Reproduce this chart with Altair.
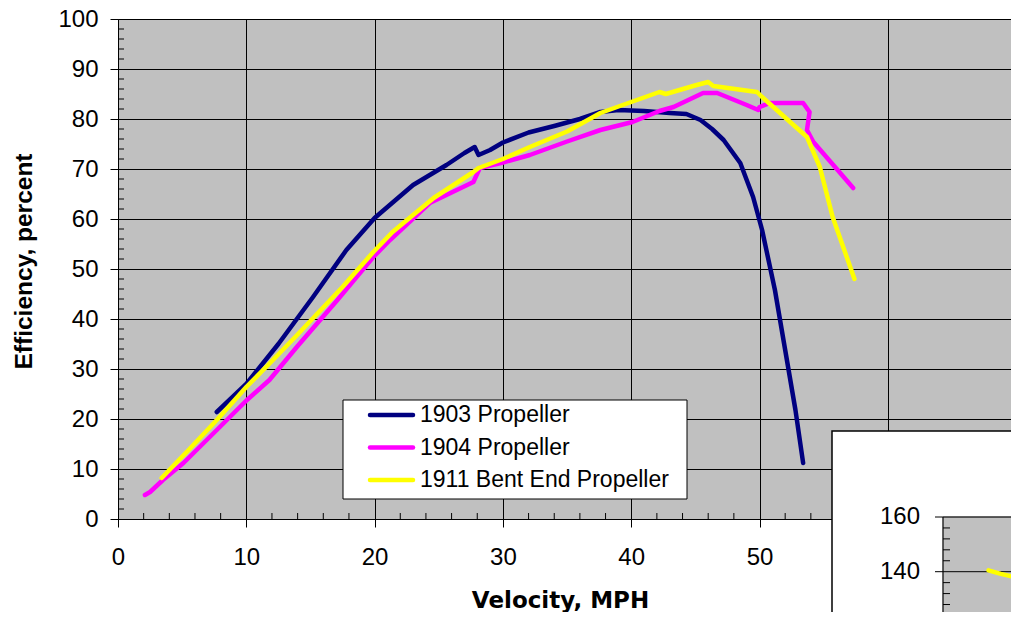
import altair as alt
import pandas as pd

series_names = ["1903 Propeller", "1904 Propeller", "1911 Bent End Propeller"]
series_colors = ["#000080", "#FF00FF", "#FFFF00"]

v1903 = [7.7, 10.0, 12.5, 15.2, 17.8, 20.0, 23.0, 25.6, 27.0, 27.8, 28.1, 29.0, 30.0, 32.0,
         34.0, 36.0, 37.6, 39.0, 41.0, 43.0, 44.3, 45.4, 46.3, 47.2, 48.5, 49.5, 50.2, 51.2,
         52.0, 52.8, 53.4]
e1903 = [21.4, 27.0, 35.0, 44.4, 53.8, 60.2, 66.8, 70.8, 73.2, 74.4, 72.8, 73.8, 75.3, 77.3,
         78.6, 80.0, 81.4, 81.8, 81.6, 81.2, 81.0, 79.8, 78.0, 75.8, 71.2, 64.4, 57.8, 45.8,
         33.8, 21.8, 11.2]

v1904 = [2.1, 2.5, 3.5, 5.1, 7.7, 10.05, 11.8, 14.0, 17.1, 19.9, 21.2, 24.3, 27.7, 28.2,
         30.0, 32.1, 35.0, 37.6, 40.1, 42.2, 43.3, 45.6, 46.7, 49.0, 49.9, 50.0, 50.8, 53.4,
         53.9, 53.7, 54.2, 57.3]
e1904 = [4.8, 5.4, 7.8, 11.2, 17.8, 23.8, 27.8, 34.6, 43.8, 52.4, 55.8, 63.2, 67.4, 70.2,
         71.3, 72.8, 75.5, 77.8, 79.4, 81.6, 82.4, 85.2, 85.2, 82.8, 81.8, 82.4, 83.2, 83.2,
         81.4, 77.8, 75.4, 66.2]

v1911 = [3.4, 5.5, 7.7, 10.0, 12.0, 14.0, 17.5, 19.9, 21.4, 24.6, 27.7, 28.1, 30.0, 32.1,
         35.0, 37.6, 38.9, 42.2, 42.7, 45.1, 46.0, 46.4, 49.8, 50.2, 53.7, 54.7, 55.7, 57.4]
e1911 = [8.2, 13.8, 19.8, 26.4, 31.6, 36.9, 46.4, 53.4, 57.4, 64.2, 69.4, 70.2, 72.0, 74.4,
         77.5, 81.2, 82.4, 85.4, 85.0, 86.8, 87.4, 86.6, 85.4, 84.4, 76.4, 70.4, 60.4, 48.0]

x_major = [0, 10, 20, 30, 40, 50, 60]
y_major = [0, 10, 20, 30, 40, 50, 60, 70, 80, 90, 100]
x_minor = [2, 4, 6, 8, 12, 14, 16, 18, 22, 24, 26, 28, 32, 34, 36, 38, 42, 44, 46, 48,
           52, 54, 56, 58, 62, 64, 66, 68]
y_minor = [2, 4, 6, 8, 12, 14, 16, 18, 22, 24, 26, 28, 32, 34, 36, 38, 42, 44, 46, 48,
           52, 54, 56, 58, 62, 64, 66, 68, 72, 74, 76, 78, 82, 84, 86, 88, 92, 94, 96, 98]

# partly visible inset chart (lower right)
inset_major = [160, 140, 120]
inset_minor = [156, 152, 148, 144, 136, 132, 128, 124]
inset_x = [2.6, 3.3, 4.1, 5.0]
inset_y = [140.5, 139.2, 138.0, 136.8]

rows = []
for name, xs, ys in zip(series_names, [v1903, v1904, v1911], [e1903, e1904, e1911]):
    for i, (xv, yv) in enumerate(zip(xs, ys)):
        rows.append({"series": name, "velocity": xv, "efficiency": yv, "idx": i})
df = pd.DataFrame(rows)

color = alt.Color("series:N", scale=alt.Scale(domain=series_names, range=series_colors),
                  legend=None)

x_scale = alt.Scale(domain=[0, 69.6], nice=False, zero=False)
y_scale = alt.Scale(domain=[0, 100], nice=False)

x_axis = alt.Axis(values=x_major, title="Velocity, MPH", labelFlush=False, labelPadding=18,
                  labelExpr="datum.value >= 60 ? '' : datum.label",
                  titleFont="DejaVu Sans", titleFontWeight="bold", titleFontSize=23,
                  titleX=442, titleY=88, titleBaseline="alphabetic", titleAlign="center")
y_axis = alt.Axis(values=y_major, title="Efficiency, percent", labelPadding=12,
                  titleFont="Liberation Sans", titleFontWeight="bold", titleFontSize=24.5,
                  titleX=-87, titleY=242, titleAngle=270, titleBaseline="alphabetic",
                  titleAlign="center")

lines = alt.Chart(df).mark_line(strokeWidth=4.5, strokeCap="round", strokeJoin="round").encode(
    x=alt.X("velocity:Q", scale=x_scale, axis=x_axis),
    y=alt.Y("efficiency:Q", scale=y_scale, axis=y_axis),
    color=color,
    order=alt.Order("idx:Q"),
)

xminor = alt.Chart(pd.DataFrame({"v": x_minor})).mark_rule(color="black", strokeWidth=1).encode(
    x=alt.X("v:Q", scale=x_scale, axis=x_axis),
    y=alt.value(494), y2=alt.value(500),
)
yminor = alt.Chart(pd.DataFrame({"v": y_minor})).mark_rule(color="black", strokeWidth=1).encode(
    y=alt.Y("v:Q", scale=y_scale, axis=y_axis),
    x=alt.value(0), x2=alt.value(6),
)

main = alt.layer(lines, xminor, yminor)

# legend
one = pd.DataFrame({"k": [0]})
leg_df = pd.DataFrame({"series": series_names})
leg_y = alt.Y("series:N", scale=alt.Scale(type="point", domain=series_names,
                                          range=[396, 461], padding=0), axis=None)
leg_box = alt.Chart(one).mark_rect(fill="white", stroke="black", strokeWidth=1).encode(
    x=alt.value(225), x2=alt.value(569), y=alt.value(381), y2=alt.value(480))
leg_sym = alt.Chart(leg_df).mark_rule(strokeWidth=4.5, strokeCap="round").encode(
    x=alt.value(252), x2=alt.value(295), y=leg_y, color=color)
leg_txt = alt.Chart(leg_df).mark_text(align="left", baseline="middle", fontSize=23,
                                      font="Liberation Sans", color="black").encode(
    x=alt.value(302), y=leg_y, text="series:N")
legend = alt.layer(leg_box, leg_sym, leg_txt)

# inset
iy_scale = alt.Scale(domain=[120, 160], range=[607.4, 498], nice=False, zero=False)
ix_scale = alt.Scale(domain=[0, 10], range=[825, 1000], nice=False, zero=False)
in_box = alt.Chart(one).mark_rect(fill="white", stroke="black", strokeWidth=1.5).encode(
    x=alt.value(714), x2=alt.value(1100), y=alt.value(412), y2=alt.value(800))
in_plot = alt.Chart(one).mark_rect(fill="#C0C0C0", stroke="#808080", strokeWidth=1).encode(
    x=alt.value(825), x2=alt.value(1100), y=alt.value(498), y2=alt.value(800))
in_major = alt.Chart(pd.DataFrame({"v": inset_major})).mark_rule(color="black", strokeWidth=1).encode(
    y=alt.Y("v:Q", scale=iy_scale, axis=None), x=alt.value(817), x2=alt.value(1100))
in_minor = alt.Chart(pd.DataFrame({"v": inset_minor})).mark_rule(color="black", strokeWidth=1).encode(
    y=alt.Y("v:Q", scale=iy_scale, axis=None), x=alt.value(825), x2=alt.value(832))
in_axis = alt.Chart(one).mark_rule(color="black", strokeWidth=1).encode(
    x=alt.value(825), y=alt.value(498), y2=alt.value(800))
in_lab = alt.Chart(pd.DataFrame({"v": inset_major})).mark_text(
    align="right", baseline="middle", fontSize=24, font="Liberation Sans", color="black").encode(
    y=alt.Y("v:Q", scale=iy_scale, axis=None), x=alt.value(802), text="v:Q")
in_line = alt.Chart(pd.DataFrame({"ix": inset_x, "iy": inset_y})).mark_line(
    color="#FFFF00", strokeWidth=4.5, strokeCap="round").encode(
    x=alt.X("ix:Q", scale=ix_scale, axis=None), y=alt.Y("iy:Q", scale=iy_scale, axis=None))
inset = alt.layer(in_box, in_plot, in_major, in_minor, in_axis, in_lab, in_line)

chart = alt.layer(main, legend, inset).resolve_scale(
    x="independent", y="independent"
).properties(
    width=893, height=500,
    padding={"left": 110, "top": 11, "right": 0, "bottom": 93},
    autosize=alt.AutoSizeParams(type="none"),
    background="white",
).configure_view(
    fill="#C0C0C0", stroke="#808080", strokeWidth=1
).configure_axis(
    domainColor="black", domainWidth=1, tickColor="black", tickSize=8, tickWidth=1,
    gridColor="black", gridOpacity=1, gridWidth=1, grid=True,
    labelFont="Liberation Sans", labelFontSize=24, labelColor="black",
    titleColor="black",
)

chart.save("out.html", embed_options={"renderer": "svg", "actions": False})
